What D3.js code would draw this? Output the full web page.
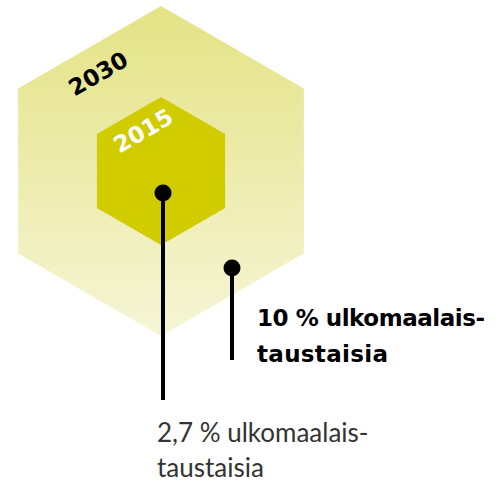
<!DOCTYPE html>
<html><head><meta charset="utf-8">
<script src="https://cdn.jsdelivr.net/npm/d3@7"></script>
<style>html,body{margin:0;padding:0;background:#fff;}svg{display:block;}</style>
</head><body>
<svg id="c" width="499" height="484"></svg>
<script>
const years = ["2030", "2015"];
const shares = [10, 2.7];
const labelLines = [["10 % ulkomaalais-", "taustaisia"], ["2,7 % ulkomaalais-", "taustaisia"]];

const svg = d3.select("#c");
const cx = 161, cy = 171;
const rScale = d3.scaleLinear().domain([2.7, 10]).range([74, 165]);

const defs = svg.append("defs");
const g = defs.append("linearGradient").attr("id","bigGrad").attr("x1",0).attr("y1",0).attr("x2",0).attr("y2",1);
g.append("stop").attr("offset","0%").attr("stop-color","#e4e385");
g.append("stop").attr("offset","100%").attr("stop-color","#f6f5d6");

function hex(r){
  return d3.range(6).map(i => {
    const a = Math.PI/180*(60*i - 90);
    return [cx + r*Math.cos(a), cy + r*Math.sin(a)];
  });
}
const fills = ["url(#bigGrad)", "#d0cc00"];
years.forEach((y,i) => {
  svg.append("polygon").attr("points", hex(rScale(shares[i])).map(p=>p.join(",")).join(" ")).attr("fill", fills[i]);
});

const boldFont = "'DejaVu Sans', sans-serif";
// year labels
svg.append("text").attr("transform","translate(99,75) rotate(-30)")
  .attr("text-anchor","middle").attr("dominant-baseline","middle")
  .attr("font-family",boldFont).attr("font-weight","bold").attr("font-size",23).attr("fill","#000").text(years[0]);
svg.append("text").attr("transform","translate(144,132) rotate(-30)")
  .attr("text-anchor","middle").attr("dominant-baseline","middle")
  .attr("font-family",boldFont).attr("font-weight","bold").attr("font-size",23).attr("fill","#fff").text(years[1]);

// pins
const pins = [{x:232, y0:268, y1:360}, {x:163, y0:193, y1:400}];
pins.forEach(p => {
  svg.append("line").attr("x1",p.x).attr("x2",p.x).attr("y1",p.y0).attr("y2",p.y1).attr("stroke","#000").attr("stroke-width",4);
  svg.append("circle").attr("cx",p.x).attr("cy",p.y0).attr("r",8.5).attr("fill","#000");
});

// labels
const t1 = svg.append("text").attr("font-family",boldFont).attr("font-weight","bold").attr("font-size",23).attr("fill","#000");
const boldW = [228, 131];
labelLines[0].forEach((s,i)=> t1.append("tspan").attr("x",257).attr("y",326 + i*36).attr("textLength",boldW[i]).text(s));
const t2 = svg.append("text").attr("font-family","Lato").attr("font-weight","400").attr("font-size",26).attr("fill","#333");
labelLines[1].forEach((s,i)=> t2.append("tspan").attr("x",157).attr("y",442 + i*35).text(s));
</script>
</body></html>
